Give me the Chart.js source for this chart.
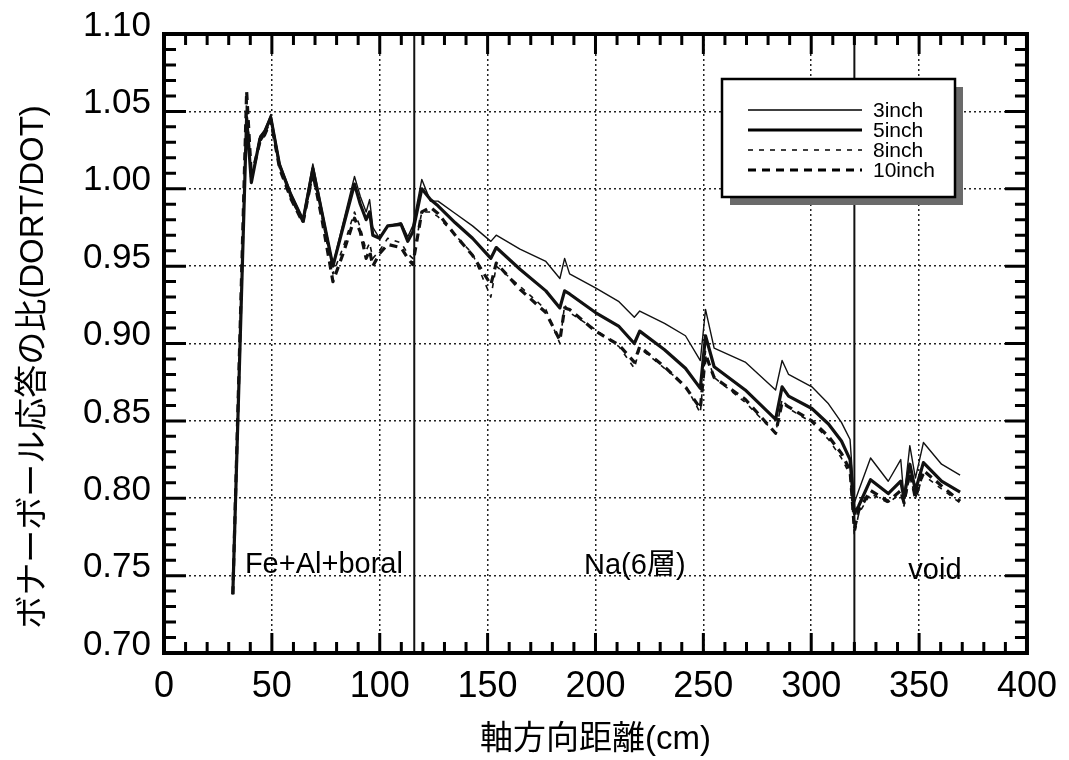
<!DOCTYPE html>
<html>
<head>
<meta charset="utf-8">
<script src="https://cdn.jsdelivr.net/npm/chart.js@4/dist/chart.umd.min.js"></script>
<style>
  body { margin: 0; background: #fff; }
  #wrap { width: 1069px; height: 760px; }
</style>
</head>
<body>
<div id="wrap"><canvas id="ratioChart" width="1069" height="760"></canvas></div>
<script>
// axial distance (cm), shared by the four curves
const distance = [31.9, 38.3, 40.5, 44.4, 46.7, 49.5, 53.6, 59, 64.4, 69, 73, 78.3, 83, 88.3, 91, 93.7, 95.3, 96.8, 99.9, 103.7,
    109.9, 113, 115.3, 119.5, 123.5, 127, 135, 143, 151.5, 154, 165, 177, 183.5, 185.7, 188, 200, 210.9, 218, 220.5, 232,
    241.7, 248.6, 251, 255, 269.4, 283.5, 286.5, 289.5, 300.3, 308, 314, 318, 320, 322, 327.5, 335.7, 341.5, 343, 345.7, 348.3,
    352, 360.4, 369];

// bonner ball response ratio DORT/DOT, one array per ball size
const ratio3inch = [0.738, 1.050, 1.004, 1.034, 1.038, 1.048, 1.017, 0.997, 0.981, 1.016, 0.988, 0.951, 0.978, 1.008, 0.995, 0.985, 0.993, 0.975, 0.968, 0.976,
    0.978, 0.969, 0.976, 1.006, 0.992, 0.992, 0.984, 0.976, 0.966, 0.970, 0.961, 0.953, 0.942, 0.955, 0.945, 0.936, 0.927, 0.917, 0.921, 0.913,
    0.905, 0.889, 0.922, 0.897, 0.888, 0.870, 0.889, 0.880, 0.872, 0.861, 0.849, 0.838, 0.797, 0.805, 0.826, 0.811, 0.825, 0.800, 0.834, 0.813,
    0.836, 0.822, 0.815];
const ratio5inch = [0.738, 1.046, 1.004, 1.032, 1.037, 1.046, 1.015, 0.995, 0.979, 1.013, 0.986, 0.950, 0.975, 1.003, 0.990, 0.980, 0.985, 0.970, 0.968, 0.976,
    0.977, 0.966, 0.972, 1.000, 0.993, 0.989, 0.978, 0.968, 0.955, 0.962, 0.948, 0.934, 0.923, 0.934, 0.932, 0.920, 0.911, 0.900, 0.908, 0.896,
    0.884, 0.871, 0.905, 0.885, 0.870, 0.851, 0.872, 0.866, 0.858, 0.848, 0.837, 0.825, 0.790, 0.795, 0.812, 0.803, 0.811, 0.800, 0.822, 0.805,
    0.823, 0.811, 0.804];
const ratio8inch = [0.738, 1.058, 1.006, 1.030, 1.035, 1.044, 1.013, 0.993, 0.978, 1.008, 0.983, 0.945, 0.962, 0.985, 0.975, 0.960, 0.965, 0.955, 0.960, 0.968,
    0.965, 0.958, 0.955, 0.985, 0.985, 0.982, 0.970, 0.958, 0.930, 0.950, 0.937, 0.922, 0.900, 0.925, 0.920, 0.909, 0.898, 0.884, 0.897, 0.884,
    0.873, 0.855, 0.895, 0.878, 0.862, 0.842, 0.864, 0.858, 0.849, 0.838, 0.826, 0.815, 0.776, 0.790, 0.803, 0.797, 0.803, 0.795, 0.815, 0.800,
    0.815, 0.806, 0.797];
const ratio10inch = [0.738, 1.063, 1.008, 1.030, 1.035, 1.044, 1.013, 0.993, 0.978, 1.010, 0.982, 0.940, 0.958, 0.981, 0.972, 0.955, 0.960, 0.950, 0.958, 0.964,
    0.962, 0.955, 0.951, 0.985, 0.988, 0.984, 0.970, 0.957, 0.938, 0.952, 0.935, 0.920, 0.902, 0.923, 0.922, 0.908, 0.899, 0.888, 0.898, 0.885,
    0.872, 0.858, 0.893, 0.878, 0.864, 0.842, 0.862, 0.859, 0.850, 0.840, 0.829, 0.818, 0.780, 0.792, 0.805, 0.798, 0.805, 0.797, 0.817, 0.800,
    0.818, 0.808, 0.798];

const seriesLabels = ['3inch', '5inch', '8inch', '10inch'];
const xTicks = [0, 50, 100, 150, 200, 250, 300, 350, 400];
const yTicks = [0.70, 0.75, 0.80, 0.85, 0.90, 0.95, 1.00, 1.05, 1.10];

// region boundaries and their names
const boundaries = [116, 320];
const regionNames = ['Fe+Al+boral', 'Na(6層)', 'void'];
const regionLabelX = [37.5, 194.7, 345];
const regionLabelY = [0.757, 0.756, 0.753];

const LATIN = '"Liberation Sans", Arial, Helvetica, sans-serif';
const MIXED = '"Liberation Sans", "Noto Sans CJK JP", sans-serif';

// line looks: thin solid, thick solid, thin dashed, thick dashed
const lineStyles = [
    { width: 1.4, dash: [] },
    { width: 3.2, dash: [] },
    { width: 1.6, dash: [5, 6] },
    { width: 3.2, dash: [8, 6] },
];

function toPoints(ys) {
    return distance.map((d, i) => ({ x: d, y: ys[i] }));
}

const allRatios = [ratio3inch, ratio5inch, ratio8inch, ratio10inch];

const datasets = allRatios.map((ys, i) => ({
    label: seriesLabels[i],
    data: toPoints(ys),
    showLine: true,
    borderColor: '#111',
    backgroundColor: '#111',
    borderWidth: lineStyles[i].width,
    borderDash: lineStyles[i].dash,
    borderJoinStyle: 'round',
    pointRadius: 0,
    tension: 0,
}));

// frame, inward ticks, boundary lines, region names, legend box and axis titles
const decorations = {
    id: 'decorations',
    beforeDatasetsDraw(chart) {
        const { ctx, chartArea: a, scales: { x } } = chart;
        ctx.save();
        ctx.strokeStyle = '#111';
        ctx.lineWidth = 2;
        boundaries.forEach(b => {
            const px = x.getPixelForValue(b);
            ctx.beginPath();
            ctx.moveTo(px, a.top);
            ctx.lineTo(px, a.bottom);
            ctx.stroke();
        });
        ctx.restore();
    },
    afterDraw(chart) {
        const { ctx, chartArea: a, scales: { x, y } } = chart;
        ctx.save();
        ctx.strokeStyle = '#000';
        ctx.fillStyle = '#000';

        // ticks on all four sides, pointing in
        ctx.lineWidth = 3;
        for (let v = 0; v <= 400; v += 10) {
            const px = x.getPixelForValue(v);
            const len = v % 50 === 0 ? 20 : 11;
            ctx.beginPath();
            ctx.moveTo(px, a.bottom); ctx.lineTo(px, a.bottom - len);
            ctx.moveTo(px, a.top); ctx.lineTo(px, a.top + len);
            ctx.stroke();
        }
        for (let k = 70; k <= 110; k++) {
            const py = y.getPixelForValue(k / 100);
            const len = k % 5 === 0 ? 22 : 12;
            ctx.beginPath();
            ctx.moveTo(a.left, py); ctx.lineTo(a.left + len, py);
            ctx.moveTo(a.right, py); ctx.lineTo(a.right - len, py);
            ctx.stroke();
        }

        // frame
        ctx.lineWidth = 4;
        ctx.strokeRect(a.left, a.top, a.right - a.left, a.bottom - a.top);

        // region names
        ctx.font = '29px ' + MIXED;
        ctx.textBaseline = 'middle';
        ctx.textAlign = 'left';
        regionNames.forEach((name, i) => {
            ctx.fillText(name, x.getPixelForValue(regionLabelX[i]), y.getPixelForValue(regionLabelY[i]));
        });

        // legend box with shadow
        const bx = 722, by = 79, bw = 233, bh = 118;
        ctx.fillStyle = '#6a6a6a';
        ctx.fillRect(bx + 8, by + 8, bw, bh);
        ctx.fillStyle = '#fff';
        ctx.fillRect(bx, by, bw, bh);
        ctx.lineWidth = 2.5;
        ctx.strokeRect(bx, by, bw, bh);
        ctx.font = '21px ' + LATIN;
        ctx.fillStyle = '#000';
        seriesLabels.forEach((lab, i) => {
            const ly = 110 + i * 20;
            ctx.beginPath();
            ctx.lineWidth = lineStyles[i].width;
            ctx.setLineDash(lineStyles[i].dash);
            ctx.moveTo(748, ly);
            ctx.lineTo(862, ly);
            ctx.stroke();
            ctx.setLineDash([]);
            ctx.fillText(lab, 873, ly + 1);
        });

        // axis titles
        ctx.font = '33px ' + MIXED;
        ctx.textAlign = 'center';
        ctx.fillText('軸方向距離(cm)', (a.left + a.right) / 2, 740);
        ctx.translate(34, 367);
        ctx.rotate(-Math.PI / 2);
        ctx.fillText('ボナーボール応答の比(DORT/DOT)', 0, 0);
        ctx.restore();
    }
};

const ctx = document.getElementById('ratioChart');

const chartConfig = {
    type: 'scatter',
    data: { datasets: datasets },
    options: {
        responsive: false,
        animation: false,
        layout: { padding: { left: 0, right: 40, top: 26, bottom: 0 } },
        plugins: {
            legend: { display: false },
            tooltip: { enabled: false },
        },
        scales: {
            x: {
                type: 'linear',
                min: 0,
                max: 400,
                afterFit: scale => { scale.height = 107; },
                afterBuildTicks: scale => { scale.ticks = xTicks.map(v => ({ value: v })); },
                ticks: {
                    color: '#000',
                    padding: 12,
                    font: { family: LATIN, size: 36 },
                    maxRotation: 0,
                    callback: v => String(v),
                },
                grid: { color: '#222', lineWidth: 1.5, drawTicks: false },
                border: { display: false, dash: [2, 3] },
            },
            y: {
                type: 'linear',
                min: 0.70,
                max: 1.10,
                afterFit: scale => { scale.width = 164; },
                afterBuildTicks: scale => { scale.ticks = yTicks.map(v => ({ value: v })); },
                ticks: {
                    color: '#000',
                    padding: 13,
                    labelOffset: -8,
                    font: { family: LATIN, size: 35 },
                    callback: v => Number(v).toFixed(2),
                },
                grid: { color: '#222', lineWidth: 1.5, drawTicks: false },
                border: { display: false, dash: [2, 3] },
            },
        },
    },
    plugins: [decorations],
};

const ratioChart = new Chart(ctx, chartConfig);
</script>
</body>
</html>
